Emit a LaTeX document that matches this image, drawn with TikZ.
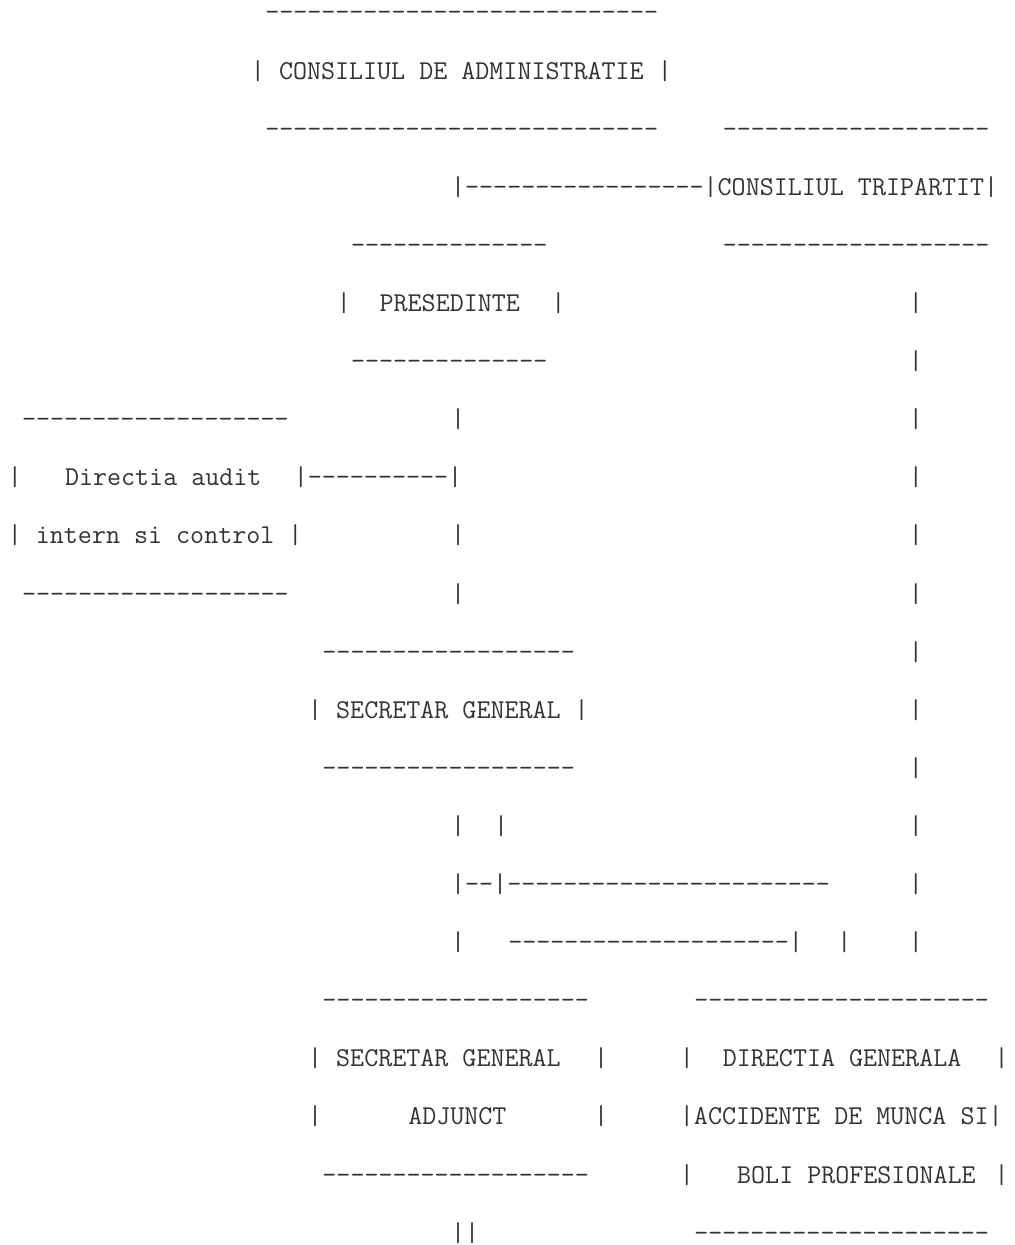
\documentclass[tikz,border=0pt]{standalone}
\usepackage{fontspec}
\usepackage{xcolor}
\definecolor{AsciiInk}{gray}{0.2}
\usepackage{tikz}

\begin{document}
\begin{tikzpicture}[x=14.3pt, y={(0pt,-58.1pt)},
    ascii/.style={anchor=base west, inner sep=0pt, outer sep=0pt, text=AsciiInk,
      font=\fontsize{27.24}{30}\selectfont\ttfamily}]
    % page: one unit = one column / one row of the chart
    \fill[white] (-0.549, -0.3614) rectangle (70.36, 21.067);

    % consiliul de administratie + consiliul tripartit
    \node[ascii] (adm top) at (18, 0) {----------------------------};
    \node[ascii] (adm) at (17, 1) {| CONSILIUL DE ADMINISTRATIE |};
    \node[ascii] (adm bot) at (18, 2) {----------------------------};
    \node[ascii] (tri top) at (50, 2) {-------------------};
    \node[ascii] (tri) at (31, 3) {|-----------------|CONSILIUL TRIPARTIT|};
    \node[ascii] (tri bot) at (50, 4) {-------------------};

    % presedinte
    \node[ascii] (pres top) at (24, 4) {--------------};
    \node[ascii] (pres l) at (23, 5) {|};
    \node[ascii] (pres) at (26, 5) {PRESEDINTE};
    \node[ascii] (pres r) at (38, 5) {|};
    \node[ascii] (pres bot) at (24, 6) {--------------};

    % directia audit intern si control
    \node[ascii] (aud top) at (1, 7) {-------------------};
    \node[ascii] (aud l) at (0, 8) {|};
    \node[ascii] (aud) at (4, 8) {Directia audit};
    \node[ascii] (aud link) at (20, 8) {|----------|};
    \node[ascii] (aud two) at (0, 9) {| intern si control |};
    \node[ascii] (aud bot) at (1, 10) {-------------------};
    \node[ascii] (v7) at (31, 7) {|};
    \node[ascii] (v9) at (31, 9) {|};
    \node[ascii] (v10) at (31, 10) {|};

    % secretar general
    \node[ascii] (sg top) at (22, 11) {------------------};
    \node[ascii] (sg) at (21, 12) {| SECRETAR GENERAL |};
    \node[ascii] (sg bot) at (22, 13) {------------------};
    \node[ascii] (v14a) at (31, 14) {|};
    \node[ascii] (v14b) at (34, 14) {|};
    \node[ascii] (split) at (31, 15) {|--|-----------------------};
    \node[ascii] (v16) at (31, 16) {|};
    \node[ascii] (to dg) at (35, 16) {--------------------|};
    \node[ascii] (v16b) at (58, 16) {|};

    % line from consiliul tripartit
    \foreach \row in {5,...,16}
      \node[ascii] (tri v\row) at (63, \row) {|};

    % secretar general adjunct
    \node[ascii] (sga top) at (22, 17) {-------------------};
    \node[ascii] (sga) at (21, 18) {| SECRETAR GENERAL};
    \node[ascii] (sga r) at (41, 18) {|};
    \node[ascii] (sga l2) at (21, 19) {|};
    \node[ascii] (sga two) at (28, 19) {ADJUNCT};
    \node[ascii] (sga r2) at (41, 19) {|};
    \node[ascii] (sga bot) at (22, 20) {-------------------};
    \node[ascii] (v21) at (31, 21) {||};

    % directia generala accidente de munca si boli profesionale
    \node[ascii] (dg top) at (48, 17) {---------------------};
    \node[ascii] (dg l) at (47, 18) {|};
    \node[ascii] (dg) at (50, 18) {DIRECTIA GENERALA};
    \node[ascii] (dg r) at (69, 18) {|};
    \node[ascii] (dg two) at (47, 19) {|ACCIDENTE DE MUNCA SI|};
    \node[ascii] (dg l3) at (47, 20) {|};
    \node[ascii] (dg three) at (51, 20) {BOLI PROFESIONALE};
    \node[ascii] (dg r3) at (69, 20) {|};
    \node[ascii] (dg bot) at (48, 21) {---------------------};
\end{tikzpicture}
\end{document}
